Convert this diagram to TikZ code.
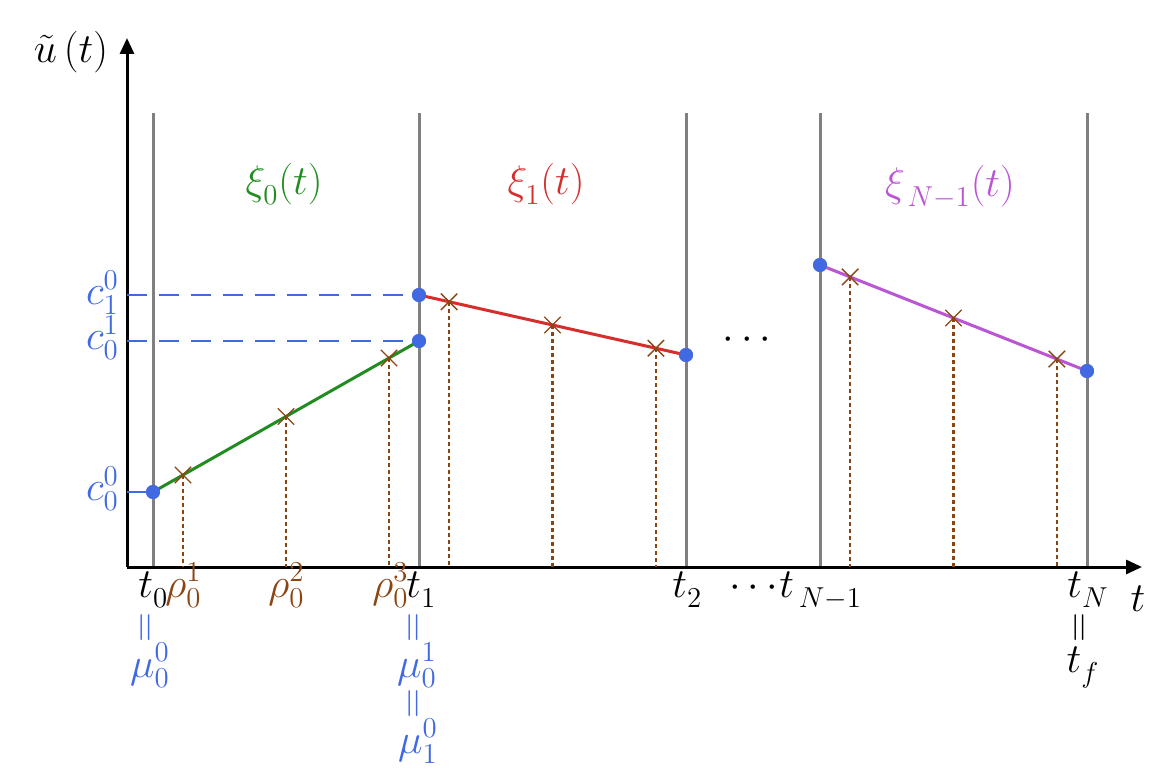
\documentclass[tikz,border=0pt]{standalone}
\usetikzlibrary{arrows.meta,shapes.misc,calc}
\definecolor{ptblue}{RGB}{65,105,225}
\definecolor{segA}{RGB}{34,139,34}
\definecolor{segB}{RGB}{214,45,45}
\definecolor{segC}{RGB}{186,85,211}
\definecolor{brn}{RGB}{139,69,19}
\definecolor{gridg}{RGB}{128,128,128}
\AtBeginDocument{\begingroup\fontsize{19.5}{23}\selectfont
  \sbox0{$\fontdimen16\textfont2=5pt \fontdimen17\textfont2=5pt$}\endgroup}
\begin{document}
\begin{tikzpicture}[x=0.5pt,y=-0.5pt,
  every node/.style={font=\fontsize{19.5}{23}\selectfont, inner sep=0pt},
  gridline/.style={draw=gridg, line width=1.5pt},
  axisline/.style={draw=black, line width=1.5pt, -{Triangle[length=8pt,width=7pt]}},
  seg/.style={line width=1.5pt},
  pt/.style={circle, fill=ptblue, minimum size=7pt},
  crs/.style={cross out, draw=brn, line width=0.7pt, minimum size=7.5pt},
  drop/.style={draw=brn, line width=1.2pt, dash pattern=on 2pt off 1.5pt},
  guide/.style={draw=ptblue, line width=1.2pt, dash pattern=on 10pt off 6pt},
  eqv/.style={rotate=90, text=#1},
]
\useasboundingbox (0,0) rectangle (1163,775);
% origin
\coordinate (O) at (127,567);
\coordinate (yend) at (127,38);
\coordinate (xend) at (1142,567);
% grid lines
\foreach \n/\x in {g0/153,g1/419,g2/686,g3/820,g4/1087}{
  \coordinate (\n t) at (\x,113);
  \coordinate (\n b) at (\x,567);
  \draw[gridline] (\n t) -- (\n b);
}
% axes
\draw[axisline] (O) -- (yend);
\draw[axisline] (O) -- (xend);
% points
\node[pt] (p00) at (153,492) {};
\node[pt] (p01) at (419,341) {};
\node[pt] (p10) at (419,295) {};
\node[pt] (p11) at (686,355) {};
\node[pt] (pN0) at (820,265) {};
\node[pt] (pN1) at (1087,371) {};
% guides
\draw[guide] (O |- p10) -- (p10.center);
\draw[guide] (O |- p01) -- (p01.center);
\draw[ptblue, line width=1.2pt] (O |- p00) -- (p00.center);
% segments
\draw[seg, segA] (p00.center) -- (p01.center);
\draw[seg, segB] (p10.center) -- (p11.center);
\draw[seg, segC] (pN0.center) -- (pN1.center);
% crosses and drops
\foreach \a/\b/\nm in {p00/p01/a,p10/p11/b,pN0/pN1/c}{
  \foreach \f/\k in {0.1127/1,0.5/2,0.8873/3}{
    \coordinate (c\nm\k) at ($(\a)!\f!(\b)$);
    \draw[drop] (c\nm\k) -- (c\nm\k |- O);
    \node[crs] (x\nm\k) at (c\nm\k) {};
  }
}
% redraw points on top
\foreach \p in {p00,p01,p10,p11,pN0,pN1}{ \fill[ptblue] (\p) circle (3.5pt); }
% axis labels
\node[anchor=base] (ylab) at (71,63) {$\tilde{u}\,(t)$};
\node[anchor=base] (xlab) at (1138,611) {$t$};
% left labels
\node[anchor=base east, text=ptblue] (lc10) at (119,305) {$c_1^0$};
\node[anchor=base east, text=ptblue] (lc01) at (119,350) {$c_0^1$};
\node[anchor=base east, text=ptblue] (lc00) at (119,501) {$c_0^0$};
% segment labels
\node[anchor=base, text=segA] (xi0) at (284,195) {$\xi_0(t)$};
\node[anchor=base, text=segB] (xi1) at (546,195) {$\xi_1(t)$};
\node[anchor=base, text=segC] (xiN) at (950,197) {$\xi_{\mkern3mu N-1}(t)$};
\node (mdots) at (747,340) {$\cdots$};
% bottom labels
\node[anchor=base west] (lt0) at (138,597) {$t_0$};
\node[anchor=base west, text=brn] (lr1) at (165,597) {$\rho_0^1$};
\node[anchor=base west, text=brn] (lr2) at (268,597) {$\rho_0^2$};
\node[anchor=base west, text=brn] (lr3) at (372,597) {$\rho_0^3$};
\node[anchor=base west] (lt1) at (406,597) {$t_1$};
\node[anchor=base west] (lt2) at (672,597) {$t_2$};
\node[anchor=base west] (ldots) at (729,597) {$\cdots$};
\node[anchor=base west] (ltN1) at (779,597) {$t_{\mkern3mu N-1}$};
\node[anchor=base west] (ltN) at (1067,597) {$t_N$};
% equalities
\node[eqv=ptblue] (e0) at (148,628) {$=$};
\node[anchor=base, text=ptblue] (m00) at (150,677) {$\mu_0^0$};
\node[eqv=ptblue] (e1) at (416,628) {$=$};
\node[anchor=base, text=ptblue] (m01) at (417,677) {$\mu_0^1$};
\node[eqv=ptblue] (e2) at (416,704) {$=$};
\node[anchor=base, text=ptblue] (m10) at (418,753) {$\mu_1^0$};
\node[eqv=black] (e3) at (1082,628) {$=$};
\node[anchor=base] (ltf) at (1083,672) {$t_f$};
\end{tikzpicture}
\end{document}
